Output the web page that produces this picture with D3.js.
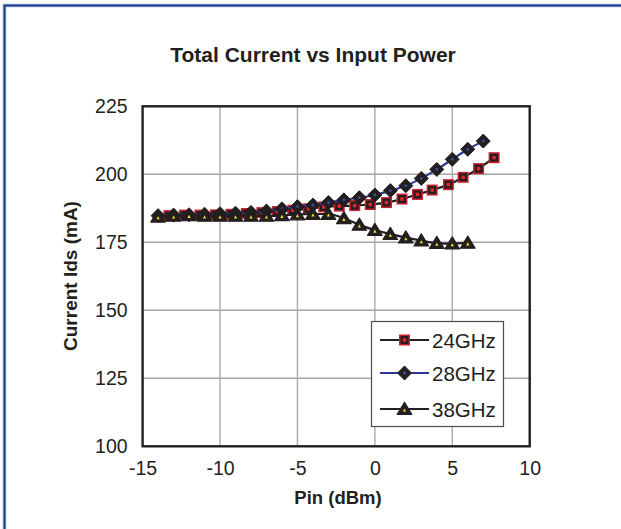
<!DOCTYPE html>
<html>
<head>
<meta charset="utf-8">
<script src="https://cdn.jsdelivr.net/npm/d3@7"></script>
<style>
  html, body { margin: 0; padding: 0; background: #fff; overflow: hidden; }
  svg { display: block; font-family: "Liberation Sans", Arial, sans-serif; }
</style>
</head>
<body>
<svg id="chart" width="621" height="529"></svg>
<script>
// Input power (dBm) for each sweep
const pin24 = [-13.3,-12.3,-11.3,-10.3,-9.3,-8.3,-7.3,-6.3,-5.3,-4.3,-3.3,-2.3,-1.3,-0.3,0.75,1.75,2.75,3.7,4.75,5.7,6.7,7.7];
const pin28 = [-14,-13,-12,-11,-10,-9,-8,-7,-6,-5,-4,-3,-2,-1,0,1,2,3,4,5,6,7];
const pin38 = [-14,-13,-12,-11,-10,-9,-8,-7,-6,-5,-4,-3,-2,-1,0,1,2,3,4,5,6];

// Total drain current (mA)
const ids24 = [184.8,185.0,185.0,185.1,185.3,185.6,185.9,186.3,186.8,187.3,188.0,188.3,188.5,188.9,189.6,190.9,192.6,194.2,196.2,198.9,202.1,206.1];
const ids28 = [184.8,185.0,185.1,185.3,185.5,185.7,186.0,186.5,187.3,188.1,188.7,189.6,190.6,191.4,192.4,194.0,195.8,198.5,201.8,205.5,209.2,212.2];
const ids38 = [184.4,184.7,184.9,184.7,184.7,184.7,184.7,184.7,184.9,185.2,185.4,185.4,183.8,181.4,179.5,178.0,176.7,175.6,174.7,174.5,174.8];

const seriesNames = ["24GHz", "28GHz", "38GHz"];
const xTicks = [-15, -10, -5, 0, 5, 10];
const yTicks = [100, 125, 150, 175, 200, 225];

const series = [
  { name: seriesNames[0], x: pin24, y: ids24, line: "#231f20", marker: "square" },
  { name: seriesNames[1], x: pin28, y: ids28, line: "#2e3a94", marker: "diamond" },
  { name: seriesNames[2], x: pin38, y: ids38, line: "#231f20", marker: "triangle" }
];

const svg = d3.select("#chart");
const ink = "#231f20";

// Page frame: top and left rules
const framePath = "M4.5,529L4.5,5.5L621,5.5";
svg.append("path").attr("d", framePath).attr("fill", "none")
  .attr("stroke", "#a9b8da").attr("stroke-width", 3.5);
svg.append("path").attr("d", framePath).attr("fill", "none")
  .attr("stroke", "#1f3f96").attr("stroke-width", 2);

const plot = { left: 142.6, right: 529.7, top: 106.3, bottom: 446.3 };

const x = d3.scaleLinear().domain([-15, 10]).range([plot.left, plot.right]);
const y = d3.scaleLinear().domain([100, 225]).range([plot.bottom, plot.top]);

// Grid lines
const grid = svg.append("g");
grid.selectAll("line.v")
  .data(xTicks.slice(1, -1))
  .join("line")
  .attr("x1", d => x(d)).attr("x2", d => x(d))
  .attr("y1", plot.top).attr("y2", plot.bottom)
  .attr("stroke", "#ababab").attr("stroke-width", 1.4);
grid.selectAll("line.h")
  .data(yTicks.slice(1, -1))
  .join("line")
  .attr("x1", plot.left).attr("x2", plot.right)
  .attr("y1", d => y(d)).attr("y2", d => y(d))
  .attr("stroke", "#a3a3a3").attr("stroke-width", 1.4);

// Axes (labels only; frame drawn separately)
const plainNum = d => String(d);
const xAxis = svg.append("g")
  .attr("transform", `translate(0,${plot.bottom})`)
  .call(d3.axisBottom(x).tickValues(xTicks).tickSize(0).tickPadding(15).tickFormat(plainNum));
const yAxis = svg.append("g")
  .attr("transform", `translate(${plot.left},0)`)
  .call(d3.axisLeft(y).tickValues(yTicks).tickSize(0).tickPadding(15).tickFormat(plainNum));
[xAxis, yAxis].forEach(g => {
  g.select(".domain").remove();
  g.selectAll("text")
    .attr("fill", ink)
    .style("font-size", "19.5px")
    .style("font-family", "'Liberation Sans', Arial, sans-serif");
});

// Plot frame
svg.append("rect")
  .attr("x", plot.left).attr("y", plot.top)
  .attr("width", plot.right - plot.left).attr("height", plot.bottom - plot.top)
  .attr("fill", "none").attr("stroke", ink).attr("stroke-width", 2.4);

// Marker drawing
function drawMarker(g, type, cx, cy) {
  if (type === "square") {
    g.append("rect").attr("x", cx - 5.5).attr("y", cy - 5.5).attr("width", 11).attr("height", 11).attr("fill", "#c8202c");
    g.append("rect").attr("x", cx - 4).attr("y", cy - 4).attr("width", 8).attr("height", 8).attr("fill", ink);
    g.append("rect").attr("x", cx - 1.7).attr("y", cy - 1.7).attr("width", 3.4).attr("height", 3.4).attr("fill", "#e8232d");
  } else if (type === "diamond") {
    const r = 7;
    g.append("path")
      .attr("d", `M${cx},${cy - r}L${cx + r},${cy}L${cx},${cy + r}L${cx - r},${cy}Z`)
      .attr("fill", ink).attr("stroke", ink).attr("stroke-width", 1).attr("stroke-linejoin", "round");
    g.append("circle").attr("cx", cx).attr("cy", cy).attr("r", 1.4).attr("fill", "#3a4fb0");
  } else {
    const h = 6.8, w = 7.3;
    g.append("path")
      .attr("d", `M${cx},${cy - h}L${cx + w},${cy + h - 1.5}L${cx - w},${cy + h - 1.5}Z`)
      .attr("fill", ink).attr("stroke", ink).attr("stroke-width", 1.2).attr("stroke-linejoin", "round");
    g.append("path")
      .attr("d", `M${cx},${cy - 0.5}L${cx + 1.6},${cy + 2.6}L${cx - 1.6},${cy + 2.6}Z`)
      .attr("fill", "#f5e61c");
  }
}

// Series lines and markers
const lineGen = d3.line().x(d => x(d[0])).y(d => y(d[1])).curve(d3.curveMonotoneX);
series.forEach(s => {
  const pts = s.x.map((v, i) => [v, s.y[i]]);
  const g = svg.append("g");
  g.append("path")
    .datum(pts)
    .attr("d", lineGen)
    .attr("fill", "none")
    .attr("stroke", s.line)
    .attr("stroke-width", 2.2);
  pts.forEach(p => drawMarker(g, s.marker, x(p[0]), y(p[1])));
});

// Legend
const legend = svg.append("g");
legend.append("rect")
  .attr("x", 371.5).attr("y", 321.5).attr("width", 132).attr("height", 105)
  .attr("fill", "#fff").attr("stroke", "#4d4d4d").attr("stroke-width", 1.2);
const rowY = [340, 373, 409];
series.forEach((s, i) => {
  const ly = rowY[i];
  legend.append("line")
    .attr("x1", 380).attr("x2", 429).attr("y1", ly).attr("y2", ly)
    .attr("stroke", s.line).attr("stroke-width", 2.2);
  drawMarker(legend, s.marker, 404.5, ly);
  legend.append("text")
    .attr("x", 432).attr("y", ly + 7.5)
    .attr("fill", ink)
    .style("font-size", "20.5px")
    .text(s.name);
});

// Titles
svg.append("text")
  .attr("x", 313).attr("y", 62)
  .attr("text-anchor", "middle")
  .attr("fill", ink)
  .style("font-size", "21px").style("font-weight", "bold")
  .text("Total Current vs Input Power");

svg.append("text")
  .attr("x", 338).attr("y", 504)
  .attr("text-anchor", "middle")
  .attr("fill", ink)
  .style("font-size", "18.5px").style("font-weight", "bold")
  .text("Pin (dBm)");

svg.append("text")
  .attr("transform", "translate(77,276) rotate(-90)")
  .attr("text-anchor", "middle")
  .attr("fill", ink)
  .style("font-size", "19px").style("font-weight", "bold")
  .text("Current Ids (mA)");
</script>
</body>
</html>
